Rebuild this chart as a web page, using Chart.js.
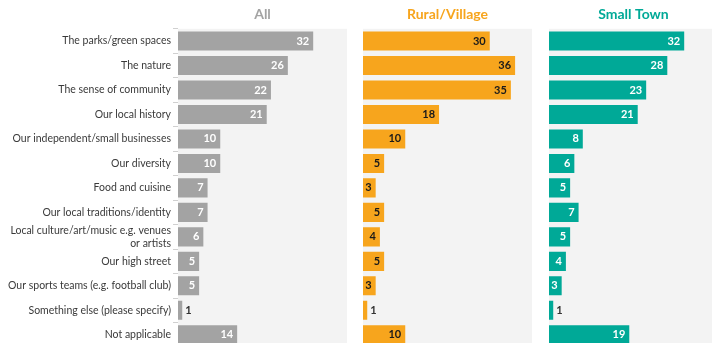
<!DOCTYPE html>
<html>
<head>
<meta charset="utf-8">
<script src="https://cdn.jsdelivr.net/npm/chart.js@4/dist/chart.umd.min.js"></script>
<style>
  body { margin: 0; background: #fff; overflow: hidden; }
  #wrap { position: relative; width: 712px; height: 343px; overflow: hidden; }
  canvas { position: absolute; top: 0; }
</style>
</head>
<body>
<div id="wrap">
  <canvas id="chartAll" width="347" height="347" style="left:0"></canvas>
  <canvas id="chartRural" width="169" height="347" style="left:363px"></canvas>
  <canvas id="chartTown" width="169" height="347" style="left:549px"></canvas>
</div>
<script>
const categories = [
    "The parks/green spaces",
    "The nature",
    "The sense of community",
    "Our local history",
    "Our independent/small businesses",
    "Our diversity",
    "Food and cuisine",
    "Our local traditions/identity",
    ["Local culture/art/music e.g. venues", "or artists"],
    "Our high street",
    "Our sports teams (e.g. football club)",
    "Something else (please specify)",
    "Not applicable",
];
const allValues = [32, 26, 22, 21, 10, 10, 7, 7, 6, 5, 5, 1, 14];
const ruralValues = [30, 36, 35, 18, 10, 5, 3, 5, 4, 5, 3, 1, 10];
const townValues = [32, 28, 23, 21, 8, 6, 5, 7, 5, 4, 3, 1, 19];

const FONT = "Lato, 'Open Sans', sans-serif";

// light grey panel behind the bars
const panelBg = {
    id: "panelBg",
    beforeDraw(chart) {
        const { ctx, chartArea: a } = chart;
        ctx.save();
        ctx.fillStyle = "#f3f3f3";
        ctx.fillRect(a.left, a.top, a.right - a.left, a.bottom - a.top);
        ctx.restore();
    },
};

// value text at the end of each bar, outside when the bar is too thin
const valueLabels = {
    id: "valueLabels",
    afterDatasetsDraw(chart, args, opts) {
        const { ctx } = chart;
        const meta = chart.getDatasetMeta(0);
        const data = chart.data.datasets[0].data;
        ctx.save();
        ctx.font = "bold 11px " + FONT;
        ctx.textBaseline = "middle";
        meta.data.forEach((bar, i) => {
            const v = data[i];
            if (v < 2) {
                ctx.textAlign = "left";
                ctx.fillStyle = "#333";
                ctx.fillText(v, bar.x + 3, bar.y);
            } else {
                ctx.textAlign = "right";
                ctx.fillStyle = opts.color;
                ctx.fillText(v, bar.x - 4, bar.y);
            }
        });
        ctx.restore();
    },
};

const makeChart = (id, title, values, color, labelColor, showLabels) => {
    const ctx = document.querySelector(id);
    const yAxis = { display: false, offset: true };
    if (showLabels) {
        Object.assign(yAxis, {
            display: true,
            // fixed label column, and no extra room above/below for the labels
            afterFit: (scale) => {
                scale.width = 178;
                scale.paddingTop = 0;
                scale.paddingBottom = 0;
            },
            border: { display: false },
            grid: { drawOnChartArea: false, tickLength: 5, color: "#d0d0d0" },
            ticks: {
                autoSkip: false,
                padding: 2,
                color: "#3a3a3a",
                font: { family: FONT, size: 10.5 },
            },
        });
    }
    return new Chart(ctx, {
        type: "bar",
        data: {
            labels: categories,
            datasets: [
                {
                    label: title,
                    data: values,
                    backgroundColor: color,
                    borderWidth: 0,
                    barPercentage: 0.78,
                    categoryPercentage: 1,
                },
            ],
        },
        options: {
            indexAxis: "y",
            responsive: false,
            animation: false,
            devicePixelRatio: 1,
            layout: { padding: 0 },
            scales: {
                x: { display: false, min: 0, max: 40 },
                y: yAxis,
            },
            plugins: {
                legend: { display: false },
                tooltip: { enabled: false },
                title: {
                    display: true,
                    text: title,
                    fullSize: false,
                    color: color,
                    font: { family: FONT, size: 14, weight: "bold" },
                    padding: { top: 6, bottom: 6 },
                },
                valueLabels: { color: labelColor },
            },
        },
        plugins: [panelBg, valueLabels],
    });
};

makeChart("#chartAll", "All", allValues, "#a3a3a3", "#fff", true);
makeChart("#chartRural", "Rural/Village", ruralValues, "#f7a51d", "#1a1a1a", false);
makeChart("#chartTown", "Small Town", townValues, "#00a997", "#fff", false);
</script>
</body>
</html>
